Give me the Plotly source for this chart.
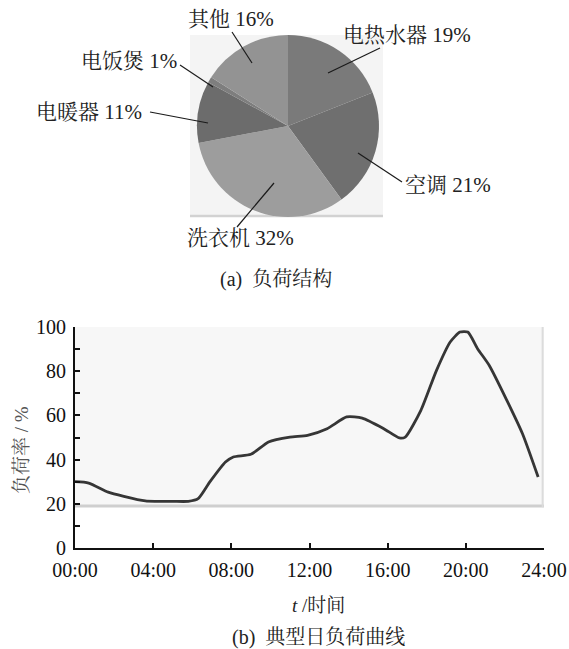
import plotly.graph_objects as go

# ---------------- data ----------------
pie_labels = ["电热水器", "空调", "洗衣机", "电暖器", "电饭煲", "其他"]
pie_values = [19, 21, 32, 11, 1, 16]
pie_colors = ["#7a7a7a", "#6f6f6f", "#9d9d9d", "#6c6c6c", "#7e7e7e", "#939393"]

hours = [0, 0.7, 1.7, 2.5, 3.6, 4.1, 5.0, 5.8, 6.3, 6.9, 7.7, 8.1, 9.0, 9.9, 11.0, 11.9,
         12.9, 13.9, 14.7, 15.8, 16.6, 16.9, 17.7, 18.5, 19.2, 19.7, 20.1, 20.6, 21.2,
         22.1, 22.9, 23.7]
load_rate = [30, 29.4, 25.3, 23.4, 21.3, 21.1, 21.1, 21.1, 22.3, 29.9, 38.9, 41.2, 42.4,
             48, 50.2, 51, 54, 59.3, 58.8, 54, 49.8, 50.2, 62.3, 80.4, 93.2, 97.7, 97.7,
             90.2, 82.6, 66.8, 51.7, 32.1]

x_tickvals = [0, 4, 8, 12, 16, 20, 24]
x_ticktext = ["00:00", "04:00", "08:00", "12:00", "16:00", "20:00", "24:00"]
y_tickvals = [0, 20, 40, 60, 80, 100]

W, H = 569, 649
FONT = "Liberation Serif, Noto Serif CJK SC, Noto Sans CJK SC, serif"


def px(x):
    return x / W


def py(y):
    return 1 - y / H


fig = go.Figure()

fig.add_trace(go.Pie(
    labels=pie_labels, values=pie_values, sort=False, direction="clockwise",
    rotation=0, marker=dict(colors=pie_colors, line=dict(width=0)),
    textinfo="none", hoverinfo="label+percent", showlegend=False,
    domain=dict(x=[px(197), px(379)], y=[py(217), py(35)]),
))

fig.add_trace(go.Scatter(
    x=hours, y=load_rate, mode="lines",
    line=dict(color="#363636", width=2.8, shape="spline", smoothing=0.6),
    showlegend=False, xaxis="x", yaxis="y",
))

shapes = []
# grey photo box behind the pie
shapes.append(dict(type="rect", xref="paper", yref="paper", x0=px(190), x1=px(383),
                   y0=py(217), y1=py(35), fillcolor="#f4f4f4", line=dict(width=0), layer="below"))
shapes.append(dict(type="line", xref="paper", yref="paper", x0=px(190), x1=px(383),
                   y0=py(216), y1=py(216), line=dict(color="#d2d2d2", width=2.5), layer="below"))
# grey photo box behind the curve
shapes.append(dict(type="rect", xref="x", yref="y", x0=0, x1=24, y0=18.5, y1=100,
                   fillcolor="#f7f7f7", line=dict(width=0), layer="below"))
shapes.append(dict(type="line", xref="x", yref="y", x0=0, x1=24, y0=19, y1=19,
                   line=dict(color="#cfcfcf", width=3), layer="below"))
shapes.append(dict(type="line", xref="x", yref="y", x0=23.93, x1=23.93, y0=18.5, y1=100,
                   line=dict(color="#dcdcdc", width=2), layer="below"))

# leader lines (label -> slice)
leaders = [
    ((232, 32), (252, 63)),
    ((380, 48), (328, 73)),
    ((180, 65), (213, 87)),
    ((150, 112), (208, 123)),
    ((402, 182), (358, 153)),
    ((237, 227), (274, 183)),
]
for (a, b) in leaders:
    shapes.append(dict(type="line", xref="paper", yref="paper", x0=px(a[0]), y0=py(a[1]),
                       x1=px(b[0]), y1=py(b[1]), line=dict(color="#1a1a1a", width=1.2)))

ann = []


def add_text(text, x, y, size, color="#222", angle=0):
    ann.append(dict(text=text, x=px(x), y=py(y), xref="paper", yref="paper",
                    xanchor="center", yanchor="middle", textangle=angle,
                    showarrow=False, font=dict(size=size, color=color, family=FONT)))


label_pos = {
    "其他": (231, 19), "电热水器": (407, 35), "电饭煲": (129, 61),
    "电暖器": (89, 112), "空调": (448, 185), "洗衣机": (240, 238),
}
for lab, val in zip(pie_labels, pie_values):
    x, y = label_pos[lab]
    add_text(f"{lab} {val}%", x, y, 21)

add_text("(a)  负荷结构", 276, 280, 20)
add_text("负荷率 / %", 21, 450, 19, color="#555", angle=-90)
add_text("<i>t</i> /时间", 318, 605, 19)
add_text("(b)  典型日负荷曲线", 318, 637, 20)

fig.update_layout(
    width=W, height=H,
    margin=dict(l=0, r=0, t=0, b=0),
    paper_bgcolor="white", plot_bgcolor="white",
    font=dict(family=FONT, size=20, color="#111"),
    shapes=shapes, annotations=ann,
    xaxis=dict(domain=[px(75), px(544)], range=[0, 24], tickvals=x_tickvals,
               ticktext=x_ticktext, ticks="inside", ticklen=5, tickwidth=2,
               tickcolor="#111", showline=True, linecolor="#111", linewidth=2.2,
               showgrid=False, zeroline=False, anchor="y", ticklabeloverflow="allow",
               ticklabelstandoff=3, automargin=False,
               tickfont=dict(size=20, family=FONT, color="#111")),
    yaxis=dict(domain=[py(548), py(327)], range=[0, 100], tickvals=y_tickvals,
               ticks="inside", ticklen=5, tickwidth=2, tickcolor="#111",
               minor=dict(dtick=10, tick0=0, ticks="inside", ticklen=5, tickwidth=2,
                          tickcolor="#111"),
               showline=True, linecolor="#111", linewidth=2.2, showgrid=False,
               zeroline=False, anchor="x", ticklabelstandoff=3, automargin=False,
               tickfont=dict(size=20, family=FONT, color="#111")),
)

# remove the default 8px page margin so the figure fills the 569x649 window exactly
fig.write_html("out.html", config={"displayModeBar": False},
               post_script="document.body.style.margin='0';document.body.style.overflow='hidden';")
